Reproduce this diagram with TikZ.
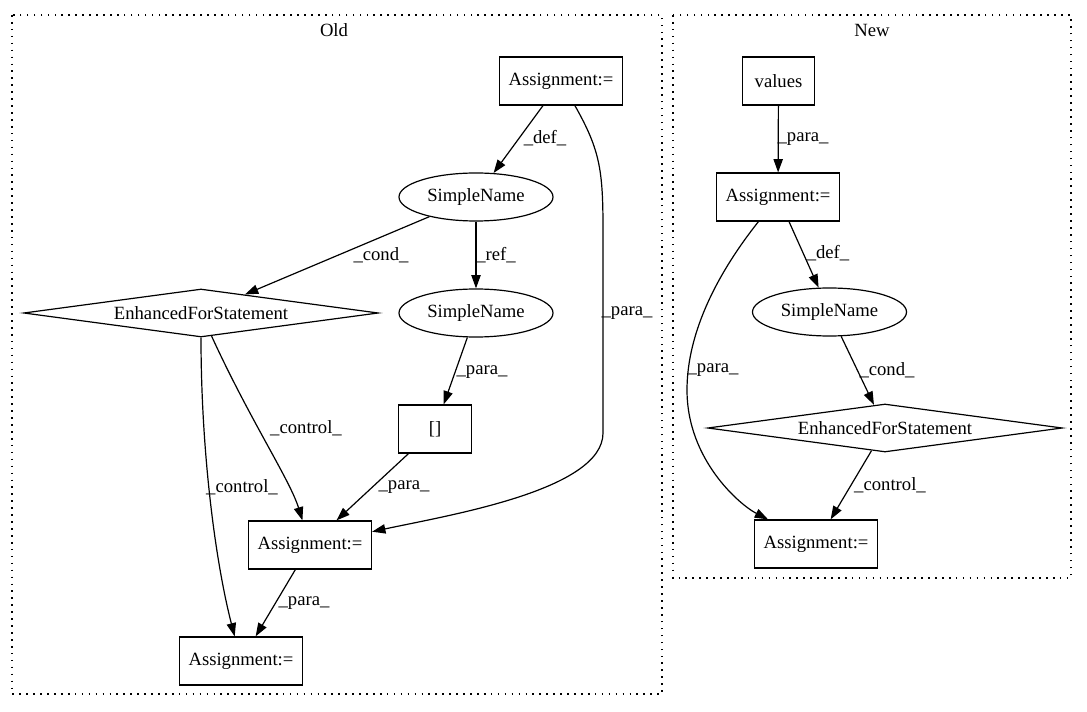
\documentclass[tikz,border=0pt]{standalone}
\usepackage{fontspec}
\setmainfont{Liberation Serif}
\usetikzlibrary{shapes.geometric,arrows.meta}
\begin{document}
\begin{tikzpicture}[x=0.75pt,y=-0.75pt,
  every node/.style={font=\fontsize{14pt}{16pt}\selectfont},
  box/.style={draw,line width=0.9pt,rectangle,minimum width=92.25pt,minimum height=36pt,inner sep=0pt},
  smallbox/.style={draw,line width=0.9pt,rectangle,minimum width=54.5pt,minimum height=36pt,inner sep=0pt},
  ell/.style={draw,line width=0.9pt,ellipse,minimum width=115.5pt,minimum height=36pt,inner sep=0pt},
  dia/.style={draw,line width=0.9pt,diamond,aspect=7.4,minimum width=266pt,minimum height=36pt,inner sep=0pt},
  edge/.style={draw,line width=0.9pt,-{Triangle[length=10pt,width=7pt]}},
  lbl/.style={inner sep=0pt},
  cluster/.style={draw,line width=0.9pt,dash pattern=on 1.2pt off 4pt}]
\useasboundingbox (0,0) rectangle (1087,712);
% clusters
\draw[cluster] (12,15) rectangle (662,694);
\node[lbl] (oldlbl) at (334,30) {Old};
\draw[cluster] (673,15) rectangle (1071,578);
\node[lbl] (newlbl) at (872,30) {New};
% Old nodes
\node[box] (A1) at (561,81) {Assignment:=};
\node[ell] (SN1) at (476,197) {SimpleName};
\node[dia] (EFS) at (201,313) {EnhancedForStatement};
\node[ell] (SN2) at (476,313) {SimpleName};
\node[smallbox] (BR) at (435,429) {[]};
\node[box] (A2) at (310,545) {Assignment:=};
\node[box] (A3) at (241,661) {Assignment:=};
% Old edges
\draw[edge] (A1) -- (SN1);
\node[lbl] at (545,138) {\_def\_};
\draw[edge] (A1) .. controls (600,150) and (603,170) .. (603,230) -- (603,433) .. controls (603,490) and (450,515) .. (A2);
\node[lbl] at (627,313) {\_para\_};
\draw[edge] (SN1) -- (EFS);
\node[lbl] at (381,255) {\_cond\_};
\draw[edge] (SN1) -- (SN2);
\node[lbl] at (496,255) {\_ref\_};
\draw[edge] (SN2) -- (BR);
\node[lbl] at (482,372) {\_para\_};
\draw[edge] (EFS) .. controls (250,420) and (290,480) .. (A2);
\node[lbl] at (306,428) {\_control\_};
\draw[edge] (EFS) .. controls (201,450) and (215,560) .. (A3);
\node[lbl] at (242,487) {\_control\_};
\draw[edge] (BR) -- (A2);
\node[lbl] at (404,487) {\_para\_};
\draw[edge] (A2) -- (A3);
\node[lbl] at (304,603) {\_para\_};
% New nodes
\node[smallbox] (V) at (778.5,81) {values};
\node[box] (A4) at (778,197) {Assignment:=};
\node[ell] (SN3) at (829.5,312) {SimpleName};
\node[dia] (EFS2) at (885,428) {EnhancedForStatement};
\node[box] (A5) at (816,544) {Assignment:=};
% New edges
\draw[edge] (V) -- (A4);
\node[lbl] at (803,139) {\_para\_};
\draw[edge] (A4) -- (SN3);
\node[lbl] at (828,253) {\_def\_};
\draw[edge] (A4) .. controls (720,270) and (687,330) .. (687,390) .. controls (687,460) and (740,505) .. (A5);
\node[lbl] at (713,370) {\_para\_};
\draw[edge] (SN3) -- (EFS2);
\node[lbl] at (887,370) {\_cond\_};
\draw[edge] (EFS2) -- (A5);
\node[lbl] at (890,485) {\_control\_};
\end{tikzpicture}
\end{document}
